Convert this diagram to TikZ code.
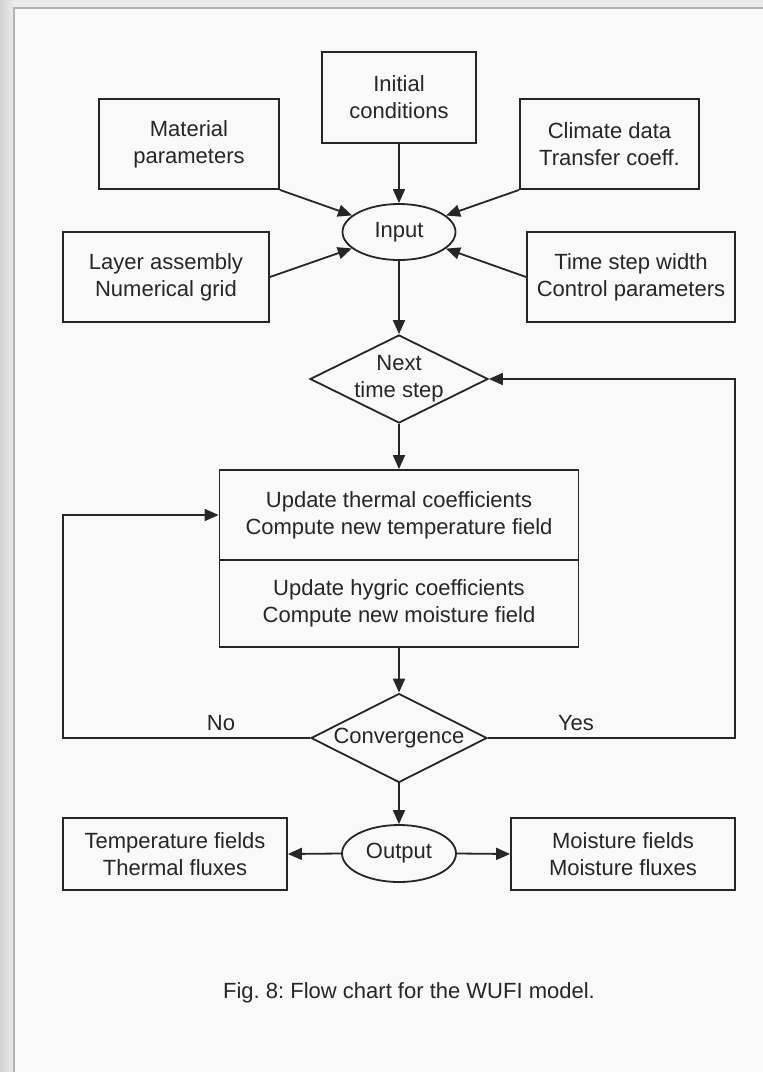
\documentclass[tikz,border=0pt]{standalone}
\usepackage{fontspec}
\setmainfont{Liberation Sans}
\frenchspacing
\usetikzlibrary{arrows.meta,shapes.geometric}
\definecolor{ink}{HTML}{262626}
\definecolor{paper}{HTML}{F9F9F9}
\definecolor{outer}{HTML}{ECECEC}
\tikzset{
  every node/.style={font=\fontsize{22}{27}\selectfont, text=ink},
  line/.style={draw=ink, line width=1.8pt},
  arr/.style={line, -{Triangle[length=14pt,width=12pt]}},
  box/.style={line, rectangle, align=center, inner sep=0pt},
  oval/.style={line, ellipse, inner sep=0pt, minimum width=113pt, minimum height=56pt},
  decision/.style={line, diamond, inner sep=0pt}
}
\begin{document}
\begin{tikzpicture}[x=1pt,y=-1pt]
\useasboundingbox (0,0) rectangle (763,1072);
% background
\fill[outer] (0,0) rectangle (763,1072);
\shade[left color=gray!35, right color=gray!15] (0,0) rectangle (14,1072);
\fill[paper] (14,8) rectangle (763,1072);
\draw[gray!60, line width=2pt] (14,1072) -- (14,8) -- (763,8);

% nodes
\node[box, minimum width=154pt, minimum height=91pt] (init) at (399,97.5) {Initial\\conditions};
\node[box, minimum width=180pt, minimum height=90pt] (mat) at (189,144) {Material\\parameters};
\node[box, minimum width=179pt, minimum height=90pt] (clim) at (609.5,144) {Climate data\\Transfer coeff.};
\node[oval] (input) at (399,232) {Input};
\node[box, minimum width=206pt, minimum height=90pt] (lay) at (166,277) {Layer assembly\\Numerical grid};
\node[box, minimum width=208pt, minimum height=90pt] (tstep) at (631,277) {Time step width\\Control parameters};
\node[decision, minimum width=178pt, minimum height=88pt] (next) at (399,379) {};
\node[align=center] at (next) {Next\\time step};
\node[box, minimum width=359pt, minimum height=90pt] (therm) at (399,515) {Update thermal coefficients\\Compute new temperature field};
\node[box, minimum width=359pt, minimum height=87pt] (hyg) at (399,603.5) {Update hygric coefficients\\Compute new moisture field};
\node[decision, minimum width=176pt, minimum height=89pt] (conv) at (399,738) {};
\node at (conv) {Convergence};
\node[oval, minimum width=114pt, minimum height=57pt] (output) at (399,853.5) {Output};
\node[box, minimum width=224pt, minimum height=72pt] (tf) at (175,854) {Temperature fields\\Thermal fluxes};
\node[box, minimum width=224pt, minimum height=72pt] (mf) at (623,854) {Moisture fields\\Moisture fluxes};
\node (no) at (221,723) {No};
\node (yes) at (576,723) {Yes};
\node (cap) at (409,993) {Fig. 8: Flow chart for the WUFI model.};

\coordinate (lc) at (63,738);
\coordinate (rc) at (735,738);

% connectors
\draw[arr] (init) -- (input);
\draw[arr] (mat.south east) -- (input);
\draw[arr] (clim.south west) -- (input);
\draw[arr] (lay.east) -- (input);
\draw[arr] (tstep.west) -- (input);
\draw[arr] (input.south) -- (next.north);
\draw[arr] (next.south) -- (therm.north);
\draw[arr] (hyg.south) -- (conv.north);
\draw[arr] (conv.west) -- (lc) |- (therm.west);
\draw[arr] (conv.east) -- (rc) |- (next.east);
\draw[arr] (conv.south) -- (output.north);
\draw[arr] (output.west) -- (tf.east);
\draw[arr] (output.east) -- (mf.west);
\end{tikzpicture}
\end{document}
